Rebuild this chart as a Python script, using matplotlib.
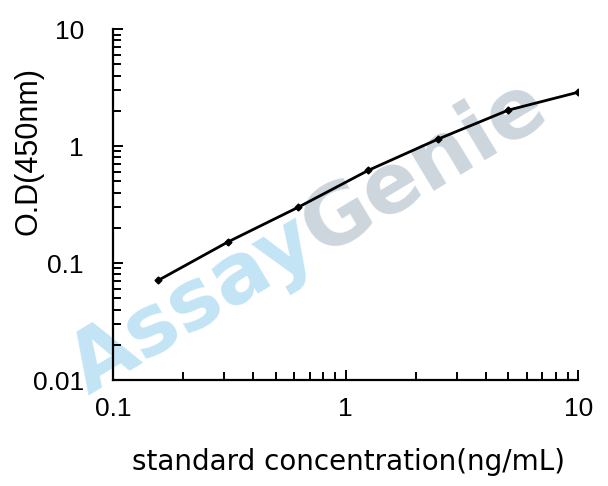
import numpy as np
import matplotlib
matplotlib.use('Agg')
import matplotlib.pyplot as plt
from matplotlib.ticker import LogLocator, FixedFormatter, FixedLocator, NullFormatter

conc = [0.156, 0.3125, 0.625, 1.25, 2.5, 5, 10]
od = [0.071, 0.152, 0.30, 0.62, 1.15, 2.03, 2.89]

x_ticks = [0.1, 1, 10]
x_tick_labels = ['0.1', '1', '10']
y_ticks = [0.01, 0.1, 1, 10]
y_tick_labels = ['0.01', '0.1', '1', '10']

plt.rcParams['font.family'] = ['Liberation Sans', 'DejaVu Sans']

fig = plt.figure(figsize=(6.08, 4.86), dpi=100)
ax = fig.add_axes([0.186, 0.218, 0.765, 0.722])
ax.set_facecolor('none')

# watermark "AssayGenie", drawn in two colours along one baseline, behind the axes
angle = 31
wm_x, wm_y = 88 / 608, 1 - 396 / 486
wm_size = 60
wm_font = ['DejaVu Sans']
fig.text(wm_x, wm_y, 'Assay', fontsize=wm_size, fontweight='bold', family=wm_font,
         color='#c2e4f5', rotation=angle, rotation_mode='anchor',
         ha='left', va='baseline', zorder=-1)
fig.canvas.draw()
probe = fig.text(0, 0, 'Assay', fontsize=wm_size, fontweight='bold', family=wm_font)
w = probe.get_window_extent().width
probe.remove()
rad = np.deg2rad(angle)
gx = wm_x + w * np.cos(rad) / fig.bbox.width
gy = wm_y + w * np.sin(rad) / fig.bbox.height
fig.text(gx, gy, 'Genie', fontsize=wm_size, fontweight='bold', family=wm_font,
         color='#ced6dd', rotation=angle, rotation_mode='anchor',
         ha='left', va='baseline', zorder=-1)

ax.plot(conc, od, color='black', linewidth=2, marker='D', markersize=3.5)

ax.set_xscale('log')
ax.set_yscale('log')
ax.set_xlim(0.1, 10)
ax.set_ylim(0.01, 10)

ax.xaxis.set_major_locator(FixedLocator(x_ticks))
ax.xaxis.set_major_formatter(FixedFormatter(x_tick_labels))
ax.yaxis.set_major_locator(FixedLocator(y_ticks))
ax.yaxis.set_major_formatter(FixedFormatter(y_tick_labels))
ax.xaxis.set_minor_locator(LogLocator(base=10, subs=np.arange(2, 10)))
ax.yaxis.set_minor_locator(LogLocator(base=10, subs=np.arange(2, 10)))
ax.xaxis.set_minor_formatter(NullFormatter())
ax.yaxis.set_minor_formatter(NullFormatter())

ax.spines['top'].set_visible(False)
ax.spines['right'].set_visible(False)
ax.spines['left'].set_linewidth(1.6)
ax.spines['bottom'].set_linewidth(1.6)
ax.tick_params(which='major', direction='in', length=7, width=1.4, labelsize=19)
ax.tick_params(which='minor', direction='in', length=6, width=1.4)
ax.tick_params(axis='x', which='major', pad=12)
ax.tick_params(axis='y', which='major', pad=21)

ax.set_xlabel('standard concentration(ng/mL)', fontsize=20, family=['DejaVu Sans'])
ax.xaxis.set_label_coords(0.507, -0.234)
ax.xaxis.label.set_va('center')
ax.set_ylabel('O.D(450nm)', fontsize=22)
ax.yaxis.set_label_coords(-0.181, 0.652)
ax.yaxis.label.set_va('center')

fig.savefig('out.png', dpi=100, facecolor='white')
